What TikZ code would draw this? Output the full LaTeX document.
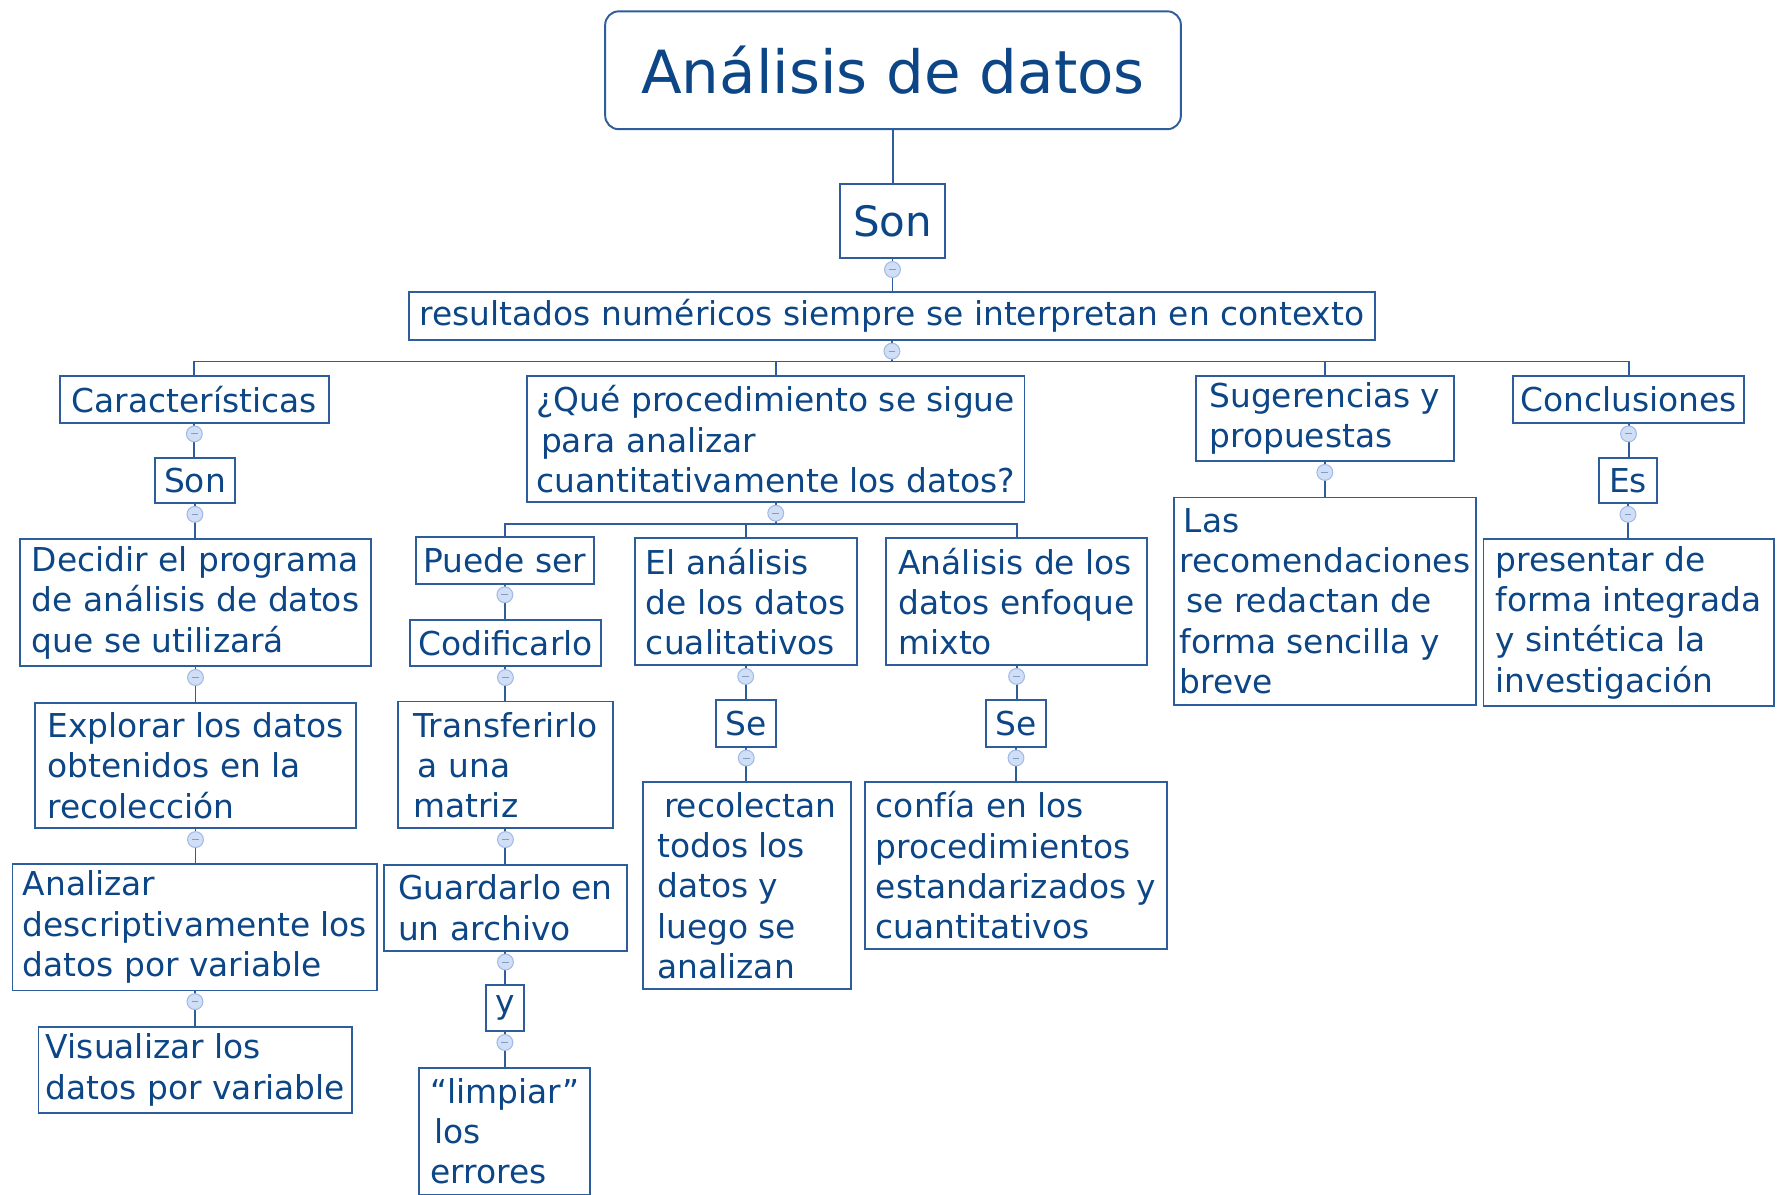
\documentclass[tikz,border=0pt]{standalone}
\usepackage{fontspec}
\setmainfont{DejaVu Sans}
\usepackage{tikz}

\definecolor{txtblue}{RGB}{12,70,134}
\definecolor{lineblue}{RGB}{45,94,155}
\definecolor{togfill}{RGB}{208,222,246}
\definecolor{togdraw}{RGB}{160,186,230}
\definecolor{togminus}{RGB}{130,156,200}

\begin{document}
\begin{tikzpicture}[x=1pt, y=-1pt, line width=1.7pt,
    concept/.style={draw=lineblue, text=txtblue, fill=white, align=left, inner sep=4pt,
                    font=\fontsize{29}{35.5}\selectfont},
    titlebox/.style={concept, rounded corners=12pt, font=\fontsize{52.5}{60}\selectfont},
    bigword/.style={concept, font=\fontsize{37}{44}\selectfont},
    connector/.style={draw=lineblue},
    toggle/.style={circle, draw=togdraw, fill=togfill, line width=0.9pt, minimum size=14pt, inner sep=0pt,
                   path picture={\draw[togminus, line width=0.8pt]
                     ([xshift=-3pt]path picture bounding box.center) -- ([xshift=3pt]path picture bounding box.center);}}]
                \useasboundingbox (0,0) rectangle (1568,1054);

                % The top
                \node[titlebox, minimum width=508pt, minimum height=104pt] (titulo) at (788,62) {Análisis de datos};
                \node[bigword, minimum width=93pt, minimum height=66pt] (son) at (787.5,195) {Son};
                \node[concept, minimum width=852pt, minimum height=42pt] (resultados) at (787,279) {resultados numéricos siempre se interpretan en contexto};

                % left branch
                \node[concept, minimum width=237pt, minimum height=41pt] (caract) at (171.5,352.5) {Características};
                \node[concept, minimum width=71pt, minimum height=40pt] (son2) at (172,424) {Son};
                \node[concept, minimum width=309pt, minimum height=112pt] (decidir) at (172.5,532) {Decidir el programa\\de análisis de datos\\que se utilizará};
                \node[concept, minimum width=283pt, minimum height=111pt] (explorar) at (172.5,675.5) {Explorar los datos\\obtenidos en la\\recolección};
                \node[concept, minimum width=322pt, minimum height=112pt] (analizar) at (172,818) {Analizar\\descriptivamente los\\datos por variable};
                \node[concept, minimum width=277pt, minimum height=76pt] (visualizar) at (172.5,944) {Visualizar los\\datos por variable};

                % procedure branch
                \node[concept, minimum width=439pt, minimum height=111pt] (que) at (684.5,387.5) {¿Qué procedimiento se sigue\\\hspace*{4pt}para analizar\\cuantitativamente los datos?};
                \node[concept, minimum width=157pt, minimum height=41pt] (puede) at (445.5,494.5) {Puede ser};
                \node[concept, minimum width=168pt, minimum height=41pt] (codif) at (446,567.5) {Codificarlo};
                \node[concept, minimum width=190pt, minimum height=112pt] (transf) at (446,675) {Transferirlo\\\hspace*{4pt}a una\\matriz};
                \node[concept, minimum width=214pt, minimum height=76pt] (guardar) at (446,801) {Guardarlo en\\un archivo};
                \node[concept, minimum width=33pt, minimum height=41pt] (y) at (445.5,889.5) {y};
                \node[concept, minimum width=151pt, minimum height=112pt] (limpiar) at (445.5,998) {“limpiar”\\\hspace*{4pt}los\\errores};
                \node[concept, minimum width=196pt, minimum height=112pt] (elanalisis) at (658,531) {El análisis\\de los datos\\cualitativos};
                \node[concept, minimum width=53pt, minimum height=41pt] (se1) at (658.5,638.5) {Se};
                \node[concept, minimum width=184pt, minimum height=183pt] (recolectan) at (659,781.5) {\hspace*{6pt}recolectan\\todos los\\datos y\\luego se\\analizan};
                \node[concept, minimum width=230pt, minimum height=112pt] (mixto) at (897,531) {Análisis de los\\datos enfoque\\mixto};
                \node[concept, minimum width=53pt, minimum height=41pt] (se2) at (896.5,638.5) {Se};
                \node[concept, minimum width=267pt, minimum height=147pt] (confia) at (896.5,763.5) {confía en los\\procedimientos\\estandarizados y\\cuantitativos};

                % right branches
                \node[concept, minimum width=228pt, minimum height=75pt] (suger) at (1169,369.5) {Sugerencias y\\propuestas};
                \node[concept, minimum width=266pt, minimum height=183pt] (recom) at (1169,530.5) {\hspace*{4pt}Las\\recomendaciones\\\hspace*{6pt}se redactan de\\forma sencilla y\\breve};
                \node[concept, minimum width=204pt, minimum height=41pt] (concl) at (1437,352.5) {Conclusiones};
                \node[concept, minimum width=51pt, minimum height=40pt] (es) at (1436.5,424) {Es};
                \node[concept, minimum width=256pt, minimum height=147pt] (presentar) at (1437,549.5) {presentar de\\forma integrada\\y sintética la\\investigación};

                % connectors
                \coordinate (bus1) at (787,319);
                \coordinate (bus2) at (684.5,462);
                \draw[connector] (titulo.south) -- (titulo.south |- son.north);
                \draw[connector] (son.south) -- (son.south |- resultados.north);
                \draw[connector] (resultados.south) -- (bus1);
                \foreach \n in {caract,que,suger,concl}
                    \draw[connector] (bus1) -| (\n.north);
                \draw[connector] (que.south) -- (bus2);
                \foreach \n in {puede,elanalisis,mixto}
                    \draw[connector] (bus2) -| (\n.north);
                \foreach \a/\b in {caract/son2, son2/decidir, decidir/explorar, explorar/analizar, analizar/visualizar,
                                   puede/codif, codif/transf, transf/guardar, guardar/y, y/limpiar,
                                   elanalisis/se1, se1/recolectan, mixto/se2, se2/confia,
                                   suger/recom, concl/es, es/presentar}
                    \draw[connector] (\a.south) -- (\a.south |- \b.north);

                % collapse marks
                \foreach \n in {son,resultados,caract,son2,decidir,explorar,analizar,que,puede,codif,transf,guardar,y,
                                elanalisis,se1,mixto,se2,suger,concl,es}
                    \node[toggle] (\n-t) at ([yshift=-9pt]\n.south) {};
            \end{tikzpicture}
\end{document}
